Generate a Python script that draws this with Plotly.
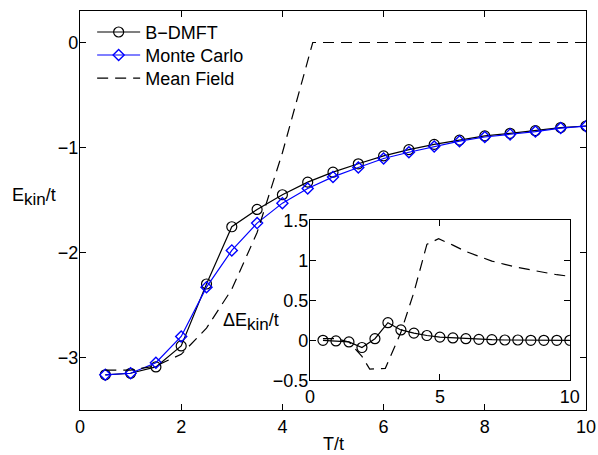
import plotly.graph_objects as go

# ---------------- data ----------------
T = [0.5, 1.0, 1.5, 2.0, 2.5, 3.0, 3.5, 4.0, 4.5, 5.0,
     5.5, 6.0, 6.5, 7.0, 7.5, 8.0, 8.5, 9.0, 9.5, 10.0]

bdmft = [-3.165, -3.15, -3.09, -2.89, -2.30, -1.755, -1.59, -1.45, -1.33, -1.235,
         -1.155, -1.08, -1.02, -0.97, -0.93, -0.89, -0.865, -0.84, -0.81, -0.795]

monte_carlo = [-3.165, -3.15, -3.05, -2.80, -2.33, -1.98, -1.72, -1.53, -1.39, -1.28,
               -1.19, -1.105, -1.045, -0.99, -0.94, -0.90, -0.875, -0.848, -0.815, -0.797]

T_mf = [0.5, 1.0, 1.5, 2.0, 2.5, 3.0, 3.5, 4.0, 4.6, 5.0,
        6.0, 7.0, 8.0, 9.0, 10.0]
mean_field = [-3.12, -3.12, -3.08, -2.97, -2.72, -2.35, -1.81, -1.05, 0.0, 0.0,
              0.0, 0.0, 0.0, 0.0, 0.0]

# inset: Delta E_kin / t
d_bdmft = [0.0, -0.008, -0.02, -0.09, 0.02, 0.22, 0.13, 0.09, 0.06, 0.04,
           0.03, 0.02, 0.012, 0.008, 0.004, 0.004, 0.0, 0.0, 0.0, 0.0]

T_dmf = [0.5, 1.0, 1.5, 2.0, 2.3, 2.9, 3.5, 4.0, 4.5, 4.95,
         5.5, 6.0, 6.5, 7.0, 7.5, 8.0, 8.5, 9.0, 9.5, 10.0]
d_mean_field = [0.02, 0.02, -0.02, -0.20, -0.36, -0.35, 0.10, 0.60, 1.20, 1.27,
                1.19, 1.11, 1.05, 0.99, 0.95, 0.91, 0.88, 0.85, 0.82, 0.80]

main_xticks = [0, 2, 4, 6, 8, 10]
main_yticks = [-3, -2, -1, 0]
inset_xticks = [0, 5, 10]
inset_yticks = [-0.5, 0, 0.5, 1, 1.5]

# ---------------- figure ----------------
FONT = "Liberation Sans, Arial, Helvetica, sans-serif"
FS = 18
BLUE = "#0000ff"
DASH = "11px,7px"

fig = go.Figure()

fig.add_trace(go.Scatter(
    x=T, y=bdmft, mode="lines+markers", name="B\u2212DMFT",
    line=dict(color="black", width=1.2),
    marker=dict(symbol="circle-open", size=10, color="black", line=dict(width=1.2)),
    legend="legend"))
fig.add_trace(go.Scatter(
    x=T, y=monte_carlo, mode="lines+markers", name="Monte Carlo",
    line=dict(color=BLUE, width=1.2),
    marker=dict(symbol="diamond-open", size=8.5, color=BLUE, line=dict(width=1.4)),
    legend="legend2"))
fig.add_trace(go.Scatter(
    x=T_mf, y=mean_field, mode="lines", name="Mean Field",
    line=dict(color="black", width=1.2, dash=DASH),
    legend="legend3"))

# inset traces
fig.add_trace(go.Scatter(
    x=T_dmf, y=d_mean_field, mode="lines", showlegend=False,
    line=dict(color="black", width=1.2, dash=DASH),
    xaxis="x2", yaxis="y2"))
fig.add_trace(go.Scatter(
    x=T, y=d_bdmft, mode="lines+markers", showlegend=False,
    line=dict(color="black", width=1.2),
    marker=dict(symbol="circle-open", size=10, color="black", line=dict(width=1.2)),
    xaxis="x2", yaxis="y2"))

axis_common = dict(
    showline=True, linecolor="black", linewidth=1.2, mirror="ticks",
    ticks="inside", ticklen=6, tickwidth=1, tickcolor="black",
    showgrid=False, zeroline=False, automargin=False,
    tickfont=dict(family=FONT, size=FS, color="black"),
)

legend_common = dict(
    xanchor="left", yanchor="middle", bgcolor="rgba(0,0,0,0)", borderwidth=0,
    font=dict(family=FONT, size=FS, color="black"), itemwidth=43,
)

SUB = "<sub><span style='font-size:17px'>kin</span></sub>"

fig.update_layout(
    width=598, height=455,
    margin=dict(l=80, r=12, t=11, b=45, autoexpand=False),
    paper_bgcolor="white", plot_bgcolor="white",
    font=dict(family=FONT, size=FS, color="black"),
    xaxis=dict(range=[0, 10], tickvals=main_xticks, domain=[0, 1], **axis_common),
    yaxis=dict(range=[-3.5, 0.3], tickvals=main_yticks, domain=[0, 1],
               ticklabelstandoff=-3, **axis_common),
    xaxis2=dict(range=[0, 10], tickvals=inset_xticks, anchor="y2",
                domain=[0.4545, 0.968], **axis_common),
    yaxis2=dict(range=[-0.5, 1.5], tickvals=inset_yticks, anchor="x2",
                domain=[0.0744, 0.4754], ticklabelstandoff=-3, **axis_common),
    legend=dict(x=0.024, y=0.9466, **legend_common),
    legend2=dict(x=0.024, y=0.889, **legend_common),
    legend3=dict(x=0.024, y=0.831, **legend_common),
    shapes=[dict(type="rect", xref="x2 domain", yref="y2 domain",
                 x0=0, x1=1, y0=0, y1=1, fillcolor="white",
                 line=dict(width=0), layer="below")],
    annotations=[
        dict(text="E" + SUB + "/t", xref="paper", yref="paper",
             x=-0.043, y=0.533, xanchor="right", yanchor="middle",
             showarrow=False, font=dict(family=FONT, size=FS)),
        dict(text="T/t", xref="paper", yref="paper",
             x=0.5, y=-0.086, xanchor="center", yanchor="middle",
             showarrow=False, font=dict(family=FONT, size=FS)),
        dict(text="\u0394E" + SUB + "/t", xref="paper", yref="paper",
             x=0.397, y=0.22, xanchor="right", yanchor="middle",
             showarrow=False, font=dict(family=FONT, size=FS)),
    ],
)

fig.write_html(
    "out.html",
    config={"displayModeBar": False},
    post_script="document.body.style.margin='0';document.body.style.overflow='hidden';",
)
